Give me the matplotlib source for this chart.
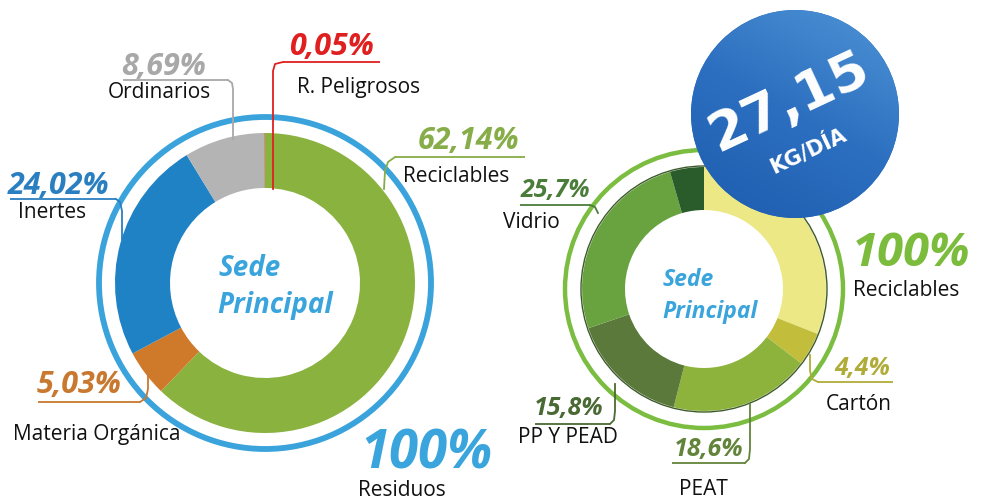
import matplotlib
matplotlib.use("Agg")
import matplotlib.pyplot as plt
import numpy as np
from matplotlib.patches import Circle
from matplotlib.colors import LinearSegmentedColormap

# ---------------- data ----------------
left_categories = ["Reciclables", "Materia Orgánica", "Inertes", "Ordinarios", "R. Peligrosos"]
left_values = [62.14, 5.03, 24.02, 8.69, 0.05]
left_labels = ["62,14%", "5,03%", "24,02%", "8,69%", "0,05%"]

right_categories = ["Otros", "Cartón", "PEAT", "PP Y PEAD", "Vidrio", "Otros2"]
right_values = [31.0, 4.4, 18.6, 15.8, 25.7, 4.5]
right_labels = ["", "4,4%", "18,6%", "15,8%", "25,7%", ""]

center_title = ("Sede", "Principal")
left_total = ("100%", "Residuos")
right_total = ("100%", "Reciclables")
badge_value = "27,15"
badge_unit = "KG/DÍA"

# ---------------- styles ----------------
left_colors = ["#8ab23f", "#cf7a2b", "#1f82c4", "#b4b4b4", "#e2262a"]
right_colors = ["#ece885", "#c2bd3b", "#8db33c", "#5a793a", "#69a340", "#2a5b2a"]
left_pct_colors = ["#86ad48", "#c8782f", "#2a7fc1", "#a8a8a8", "#e02020"]
right_pct_colors = ["", "#b0ac38", "#62843a", "#4a6a33", "#4b7d3a", ""]

W, H = 983, 502
fig = plt.figure(figsize=(W / 100, H / 100), dpi=100)
ax = fig.add_axes([0, 0, 1, 1])

def Y(y):
    return H - y

LFONT = "Open Sans"
NAME_SIZE = 15

# ---------------- left donut ----------------
lc = (265, Y(284))
ax.pie(left_values, colors=left_colors, center=lc, radius=150, startangle=90,
       counterclock=False, wedgeprops=dict(width=55, linewidth=0))
ax.add_patch(Circle(lc, 166, fill=False, ec="#3ba3dc", lw=4.2))

# ---------------- right donut ----------------
rc = (704, Y(290))
ax.pie(right_values, colors=right_colors, center=rc, radius=122, startangle=90,
       counterclock=False, wedgeprops=dict(width=43, linewidth=0))
ax.add_patch(Circle(rc, 123, fill=False, ec="#3d5a2a", lw=1.0))
ax.add_patch(Circle(rc, 139, fill=False, ec="#7bbd40", lw=3.2))

# center titles
ax.text(218, Y(268), center_title[0], color="#3aa4dc", fontsize=20, fontweight="bold",
        fontstyle="italic", family=LFONT, ha="left", va="center")
ax.text(217, Y(305), center_title[1], color="#3aa4dc", fontsize=20, fontweight="bold",
        fontstyle="italic", family=LFONT, ha="left", va="center")
ax.text(663, Y(280), center_title[0], color="#3aa4dc", fontsize=16.5, fontweight="bold",
        fontstyle="italic", family=LFONT, ha="left", va="center")
ax.text(662, Y(312), center_title[1], color="#3aa4dc", fontsize=16.5, fontweight="bold",
        fontstyle="italic", family=LFONT, ha="left", va="center")

# ---------------- labels ----------------
def label(pct, color, name, px, py, ux0, ux1, uy, nx, ny, line, psize=22):
    ax.text(px, Y(py), pct, color=color, fontsize=psize, fontweight="bold", fontstyle="italic",
            family=LFONT, ha="left", va="center")
    ax.plot([ux0, ux1], [Y(uy), Y(uy)], color=color, lw=1.3, solid_capstyle="butt")
    xs, ys = zip(*line)
    ax.plot(xs, [Y(v) for v in ys], color=color, lw=1.3)
    ax.text(nx, Y(ny), name, color="#111111", fontsize=NAME_SIZE, family=LFONT, ha="left", va="center")

# left donut labels
label(left_labels[4], left_pct_colors[4], left_categories[4], 289, 47, 283, 380, 63, 297, 88,
      [(273, 190), (273, 72), (275, 65), (283, 63)])
label(left_labels[3], left_pct_colors[3], left_categories[3], 121, 67, 123, 228, 81, 108, 93,
      [(228, 81), (232, 84), (233, 90), (233, 140)])
label(left_labels[0], left_pct_colors[0], left_categories[0], 418, 141, 395, 525, 158, 403, 176,
      [(395, 158), (388, 163), (385, 172), (384, 190)])
label(left_labels[2], left_pct_colors[2], left_categories[2], 8, 186, 10, 116, 200, 18, 213,
      [(116, 200), (120, 203), (122, 212), (122, 240)])
label(left_labels[1], left_pct_colors[1], left_categories[1], 37, 385, 38, 140, 403, 13, 435,
      [(140, 403), (146, 399), (148, 390), (148, 376)])

# right donut labels
label(right_labels[4], right_pct_colors[4], right_categories[4], 521, 190, 520, 590, 206, 503, 223,
      [(590, 206), (595, 208), (598, 214)], psize=18)
label(right_labels[1], right_pct_colors[1], right_categories[1], 834, 369, 818, 893, 383, 826, 405,
      [(818, 383), (812, 380), (810, 372), (810, 356)], psize=18)
label(right_labels[3], right_pct_colors[3], right_categories[3], 534, 409, 535, 610, 425, 518, 438,
      [(610, 425), (614, 421), (615, 412), (615, 385)], psize=18)
label(right_labels[2], right_pct_colors[2], right_categories[2], 674, 450, 672, 745, 464, 679, 490,
      [(745, 464), (749, 460), (750, 450), (750, 405)], psize=18)

# totals
ax.text(360, Y(455), left_total[0], color="#3aa4dc", fontsize=38, fontweight="bold",
        fontstyle="italic", family=LFONT, ha="left", va="center")
ax.text(358, Y(491), left_total[1], color="#111111", fontsize=NAME_SIZE, family=LFONT,
        ha="left", va="center")
ax.text(852, Y(254), right_total[0], color="#7cbc3c", fontsize=34, fontweight="bold",
        fontstyle="italic", family=LFONT, ha="left", va="center")
ax.text(853, Y(291), right_total[1], color="#111111", fontsize=NAME_SIZE, family=LFONT,
        ha="left", va="center")

# ---------------- badge ----------------
bc = (795, Y(115))
br = 104
badge = Circle(bc, br, fc="#2a6bbd", ec="none", zorder=5)
ax.add_patch(badge)
gx, gy = np.meshgrid(np.linspace(0, 1, 200), np.linspace(0, 1, 200))
grad = 0.35 * (1 - gx) + 0.65 * gy
cmap = LinearSegmentedColormap.from_list("b", ["#4f95d6", "#2c6fc0", "#1e5cae"])
im = ax.imshow(grad, cmap=cmap, extent=(bc[0] - br, bc[0] + br, bc[1] - br, bc[1] + br),
               origin="upper", zorder=6, interpolation="bilinear")
im.set_clip_path(badge)
ax.text(790, Y(102), badge_value, color="white", fontsize=39, fontweight="bold",
        family="DejaVu Sans", rotation=25, ha="center", va="center", zorder=7)
ax.text(808, Y(150), badge_unit, color="white", fontsize=15, fontweight="bold",
        family="DejaVu Sans", rotation=25, ha="center", va="center", zorder=7)

ax.set_xlim(0, W)
ax.set_ylim(0, H)
ax.set_aspect("equal")
ax.axis("off")
fig.savefig("out.png", dpi=100, facecolor="white")
